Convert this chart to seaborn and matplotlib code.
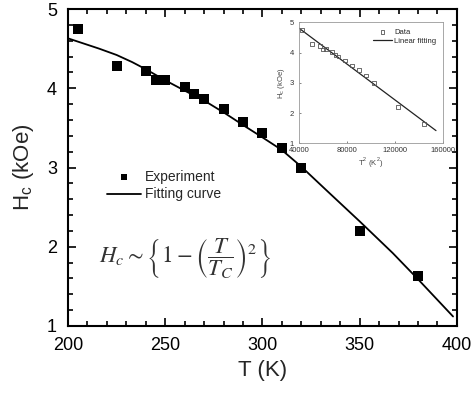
import matplotlib
matplotlib.use("Agg")
import matplotlib.pyplot as plt
from matplotlib.ticker import MultipleLocator
import numpy as np
import pandas as pd
import seaborn as sns

# measured coercivity
temp_k = [205, 225, 240, 245, 250, 260, 265, 270, 280, 290, 300, 310, 320, 350, 380]
hc_koe = [4.75, 4.28, 4.22, 4.10, 4.11, 4.02, 3.93, 3.87, 3.74, 3.575, 3.43, 3.24, 3.00, 2.20, 1.63]

# fitting curve
fit_temp = [200, 216, 225, 233, 240, 250, 260, 271, 281, 291, 300, 310, 320, 333, 350, 367, 380, 398]
fit_hc = [4.63, 4.50, 4.42, 4.33, 4.24, 4.10, 3.97, 3.83, 3.68, 3.52, 3.38, 3.22, 3.01, 2.71, 2.32, 1.92, 1.59, 1.12]

# inset linear fit end points
lin_t2 = [40000, 154400]
lin_hc = [4.80, 1.42]

sns.set_theme(style="ticks")
plt.rcParams["font.family"] = ["Liberation Sans", "DejaVu Sans"]
plt.rcParams["mathtext.fontset"] = "stix"

df = pd.DataFrame({"T": temp_k, "Hc": hc_koe})
df["T2"] = df["T"] ** 2
fit = pd.DataFrame({"T": fit_temp, "Hc": fit_hc})
lin = pd.DataFrame({"T2": lin_t2, "Hc": lin_hc})

fig = plt.figure(figsize=(4.74, 3.94), dpi=100)
ax = fig.add_axes([0.1435, 0.1726, 0.8205, 0.8045])

sns.scatterplot(data=df, x="T", y="Hc", marker="s", s=55, color="black",
                edgecolor="black", linewidth=0, ax=ax, label="Experiment", zorder=3)
sns.lineplot(data=fit, x="T", y="Hc", color="black", lw=1.3, sort=False,
             estimator=None, ax=ax, label="Fitting curve")

ax.set_xlim(200, 400)
ax.set_ylim(1, 5)
ax.xaxis.set_major_locator(MultipleLocator(50))
ax.xaxis.set_minor_locator(MultipleLocator(10))
ax.yaxis.set_major_locator(MultipleLocator(1))
ax.yaxis.set_minor_locator(MultipleLocator(0.2))
ax.tick_params(which="both", direction="in", top=True, right=True, width=1.2,
               colors="black", labelsize=13, pad=8)
ax.tick_params(which="major", length=6)
ax.tick_params(which="minor", length=3.5)
for sp in ax.spines.values():
    sp.set_linewidth(1.5)
    sp.set_color("black")
ax.set_xlabel("T (K)", fontsize=16, labelpad=4)
ax.set_ylabel(r"H$_\mathregular{c}$ (kOe)", fontsize=16, labelpad=8)

ax.legend(loc="upper left", bbox_to_anchor=(0.087, 0.51), frameon=False,
          fontsize=10, markerscale=0.6, handlelength=2.4, handletextpad=0.3,
          labelspacing=0.25, borderaxespad=0)

ax.text(260, 1.85, r"$H_c\sim\left\{1-\left(\dfrac{T}{T_C}\right)^2\right\}$",
        fontsize=16.5, color="#333333", ha="center", va="center")

# inset: Hc vs T^2
ins = fig.add_axes([0.6314, 0.6363, 0.3025, 0.307])
sns.scatterplot(data=df, x="T2", y="Hc", marker="s", s=7, facecolor="none",
                edgecolor="#555555", linewidth=0.6, ax=ins, label="Data", zorder=3)
sns.lineplot(data=lin, x="T2", y="Hc", color="#222222", lw=0.9, ax=ins,
             label="Linear fitting")
ins.set_xlim(40000, 160000)
ins.set_ylim(1, 5)
ins.set_xticks([40000, 80000, 120000, 160000])
ins.set_yticks([1, 2, 3, 4, 5])
ins.tick_params(direction="in", length=1.5, width=0.5, labelsize=5.5,
                colors="#555555", labelcolor="#333333")
ins.tick_params(axis="x", pad=3)
ins.tick_params(axis="y", pad=4)
for sp in ins.spines.values():
    sp.set_linewidth(0.6)
    sp.set_color("#999999")
ins.set_xlabel(r"T$^\mathregular{2}$ (K$^\mathregular{2}$)", fontsize=5.5, labelpad=1, color="#444444")
ins.set_ylabel(r"H$_\mathregular{c}$ (kOe)", fontsize=5.5, labelpad=2, color="#444444")
ins.legend(loc="upper right", frameon=False, fontsize=5.5, handlelength=2.5,
           handletextpad=0.3, labelspacing=0.2, borderaxespad=0.4)

fig.savefig("out.png", dpi=100)
